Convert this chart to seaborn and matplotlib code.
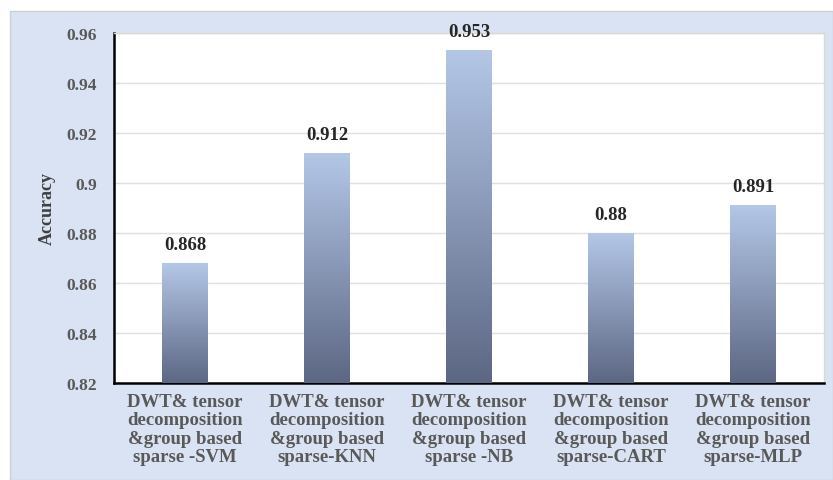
import seaborn as sns
import pandas as pd
import numpy as np
import matplotlib.pyplot as plt
from matplotlib.patches import Rectangle
from matplotlib.colors import LinearSegmentedColormap

methods = ['DWT& tensor\ndecomposition\n&group based\nsparse -SVM',
           'DWT& tensor\ndecomposition\n&group based\nsparse-KNN',
           'DWT& tensor\ndecomposition\n&group based\nsparse -NB',
           'DWT& tensor\ndecomposition\n&group based\nsparse-CART',
           'DWT& tensor\ndecomposition\n&group based\nsparse-MLP']
accuracy = [0.868, 0.912, 0.953, 0.88, 0.891]
value_labels = ['0.868', '0.912', '0.953', '0.88', '0.891']
yticks = [0.82, 0.84, 0.86, 0.88, 0.90, 0.92, 0.94, 0.96]
ytick_labels = ['0.82', '0.84', '0.86', '0.88', '0.9', '0.92', '0.94', '0.96']

df = pd.DataFrame({'method': methods, 'accuracy': accuracy})

sns.set_style('white')
plt.rcParams['font.family'] = ['Liberation Serif', 'DejaVu Serif']

fig = plt.figure(figsize=(8.33, 4.81), dpi=100)
fig.patch.set_facecolor('white')
W, H = 833, 481
# light blue chart-area panel behind the plot
fig.patches.append(Rectangle((10 / W, 0), 1 - 10 / W, (H - 12) / H,
                             transform=fig.transFigure, facecolor='#dae3f3',
                             edgecolor='#d0d0d0', linewidth=1, zorder=-5))

ax = fig.add_axes([114 / W, 1 - 384 / H, (824 - 114) / W, (384 - 34) / H])
ax.set_zorder(1)
ax.set_facecolor('white')

sns.barplot(data=df, x='method', y='accuracy', width=0.32, color='#b4c7e7', ax=ax, zorder=2)

# vertical gradient fill for each bar
cmap = LinearSegmentedColormap.from_list('grad', ['#5c6783', '#b4c7e7'])
grad = np.linspace(0, 1, 256).reshape(-1, 1)
for bar in ax.patches:
    x0 = bar.get_x()
    x1 = x0 + bar.get_width()
    top = bar.get_height()
    ax.imshow(grad, cmap=cmap, aspect='auto', origin='lower',
              extent=[x0, x1, 0.82, top], zorder=3)
    bar.set_alpha(0)
ax.set_xlim(-0.5, 4.5)
ax.set_ylim(0.82, 0.96)

for i, (v, lab) in enumerate(zip(accuracy, value_labels)):
    ax.text(i, v + 0.004, lab, ha='center', va='bottom', fontsize=13.5,
            fontweight='bold', color='#262626', zorder=5, clip_on=False)

ax.set_yticks(yticks)
ax.set_yticklabels(ytick_labels, fontsize=12.5, fontweight='bold', color='#595959')
ax.set_xticks(range(len(methods)))
ax.set_xticklabels(methods, fontsize=13.5, fontweight='bold', color='#595959', linespacing=1.12)
ax.tick_params(axis='y', length=0, pad=12)
ax.tick_params(axis='x', length=0, pad=7)
ax.yaxis.grid(True, color='#e0e0e0', linewidth=1, zorder=0)
ax.set_axisbelow(True)

ax.set_xlabel('')
ax.set_ylabel('Accuracy', fontsize=13, fontweight='bold', color='#404040', labelpad=8)

for s in ['left', 'bottom']:
    ax.spines[s].set_color('black')
    ax.spines[s].set_linewidth(1.8)
for s in ['top', 'right']:
    ax.spines[s].set_color('#d9d9d9')
    ax.spines[s].set_linewidth(1)

plt.savefig('out.png', dpi=100)
